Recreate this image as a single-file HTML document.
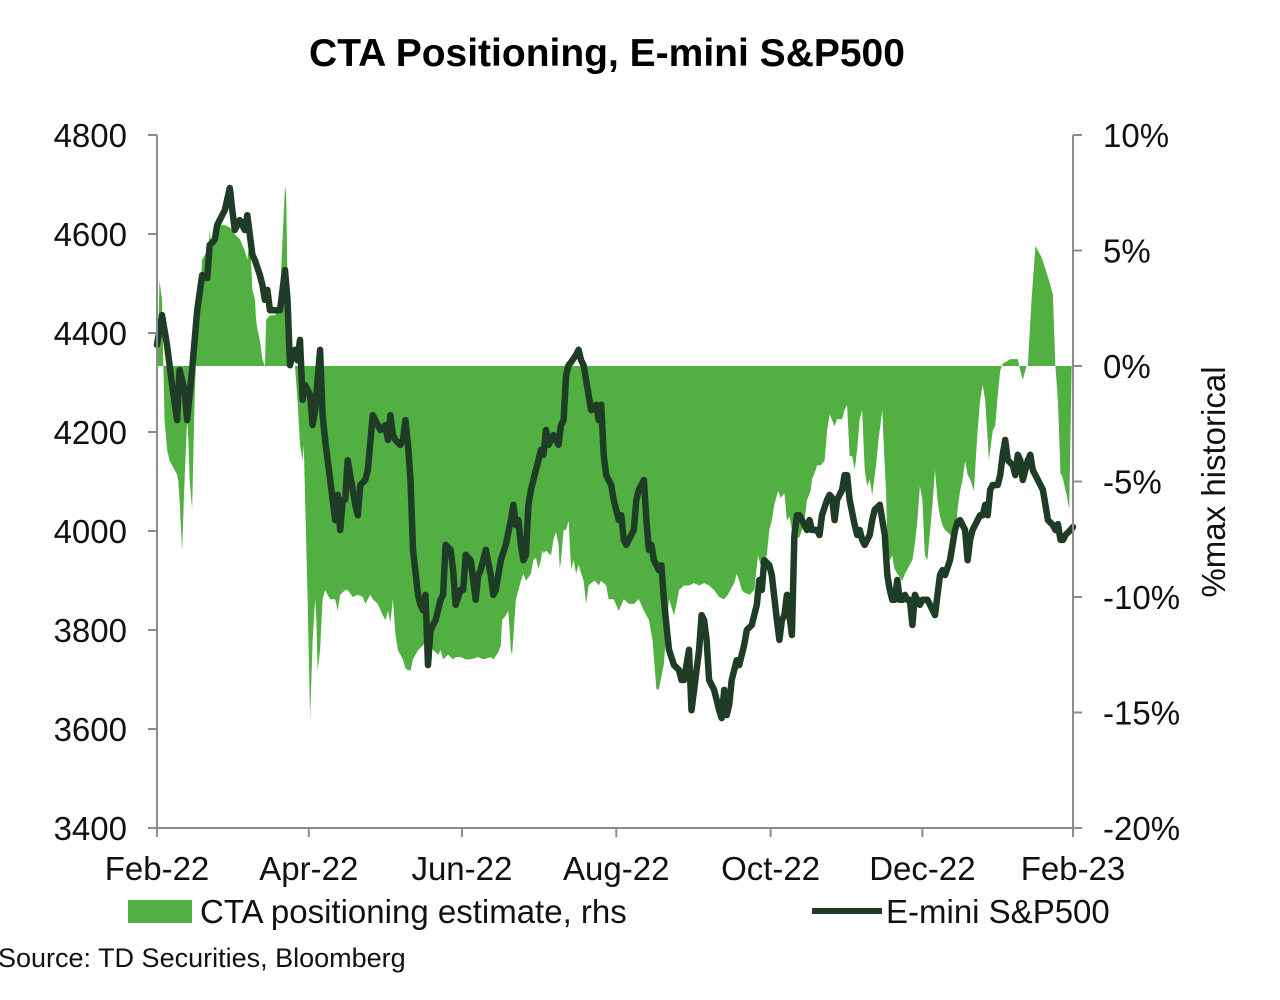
<!DOCTYPE html>
<html><head><meta charset="utf-8"><style>
body{margin:0;background:#fff;}
svg{display:block;font-family:"Liberation Sans",Arial,sans-serif;}
</style></head><body>
<svg id="chart" width="1280" height="1000">
<text x="607" y="66" text-anchor="middle" font-size="39" font-weight="bold" fill="#000">CTA Positioning, E-mini S&amp;P500</text>
<g id="plot"></g>
<g id="axes"></g>
<text transform="translate(1225,482) rotate(-90)" text-anchor="middle" font-size="33" fill="#111">%max historical</text>
<rect x="128" y="900" width="64" height="23" fill="#52b043"/>
<text x="200" y="923" font-size="33" fill="#111">CTA positioning estimate, rhs</text>
<line x1="812" y1="911" x2="882" y2="911" stroke="#1f3d26" stroke-width="6"/>
<text x="886" y="923" font-size="33" fill="#111">E-mini S&amp;P500</text>
<text x="-2" y="967" font-size="27" fill="#111">Source: TD Securities, Bloomberg</text>
</svg>
<script>
const spDays=[0,2,4,6,8,9,11,12,14,16,18,20,21,23,24,26,27,29,30,31,33,35,36,38,39,41,42,43,44,45,47,49,51,52,53,54,55,56,57,58,59,61,62,63,64,65,66,67,69,71,72,73,74,75,76,77,79,80,81,83,84,86,88,89,91,92,93,94,95,97,98,99,100,101,102,104,105,106,107,108,109,111,113,114,115,117,118,119,121,122,123,125,127,128,129,131,133,134,135,137,139,141,142,143,144,145,146,147,148,149,150,151,152,153,154,155,156,157,158,160,161,162,163,164,165,167,168,169,170,171,172,173,175,176,177,178,179,181,182,184,185,186,187,188,190,191,192,194,195,196,197,198,200,201,202,203,204,206,208,209,210,212,213,214,216,217,218,219,220,222,223,224,225,226,227,228,229,231,232,234,235,237,239,240,241,242,244,245,247,248,249,250,251,253,254,255,256,257,258,259,260,261,263,264,265,267,268,269,270,271,273,274,275,276,278,279,280,281,282,284,285,286,288,289,290,291,292,293,294,295,296,297,298,299,300,301,302,303,304,305,307,308,310,311,312,313,314,316,318,319,320,321,322,323,324,325,327,328,329,330,331,332,333,335,336,337,338,339,341,342,343,344,345,346,347,348,349,351,353,354,355,357,358,359,360,361,362,364,365];
const spValues=[4376,4436,4376,4295,4224,4325,4285,4224,4325,4446,4517,4511,4578,4588,4618,4638,4648,4693,4648,4608,4628,4608,4638,4558,4547,4517,4497,4467,4487,4446,4446,4446,4527,4467,4335,4356,4366,4345,4386,4265,4295,4275,4214,4244,4305,4366,4234,4184,4103,4022,4073,4002,4063,4063,4143,4113,4053,4032,4093,4103,4123,4234,4214,4204,4214,4184,4234,4194,4184,4174,4184,4224,4174,4103,3962,3871,3851,3840,3871,3729,3800,3820,3861,3871,3972,3962,3921,3851,3881,3881,3952,3941,3861,3911,3921,3962,3911,3871,3881,3941,3972,4022,4053,4012,4022,3972,3941,3951,4053,4083,4103,4123,4143,4164,4154,4204,4174,4184,4194,4174,4214,4224,4315,4335,4341,4356,4366,4345,4335,4305,4275,4244,4255,4224,4255,4154,4113,4093,4063,4022,4032,3982,3972,3982,4002,4063,4083,4103,4022,3962,3972,3941,3921,3931,3861,3810,3760,3729,3719,3699,3699,3760,3638,3679,3760,3830,3820,3780,3699,3679,3659,3638,3622,3679,3628,3649,3699,3739,3729,3770,3800,3810,3851,3901,3881,3941,3931,3911,3820,3780,3820,3830,3871,3790,3992,4032,4032,4022,4012,4002,4022,4002,4002,3992,4032,4063,4073,4067,4022,4063,4083,4113,4113,4063,4012,3992,4002,3982,3972,3992,4022,4043,4053,4022,3992,3911,3881,3861,3861,3901,3861,3861,3871,3861,3861,3810,3871,3861,3851,3861,3861,3851,3830,3871,3911,3921,3911,3941,4002,4018,4022,4012,4002,3941,3982,4002,4022,4032,4032,4053,4032,4083,4093,4093,4113,4154,4184,4143,4133,4113,4154,4143,4103,4123,4143,4154,4123,4103,4083,4053,4022,4012,4002,4014,3982,3982,3992,4002,4008];
const ctaDays=[0,0.4,1,2,3,4,5,7,8,8.5,9,10,11,12,12.5,13,14,15,16,17,18,20,20.5,21,22,23,23.5,25,27,29,31,33,35,36,37,38,39,39.5,40,41,42,43,43.5,45,47,48,49,50,51,51.5,52,53,54,55,56,57,58,58.5,59,60,61,62,63,63.5,64,65,66,67,69,71,72,73,75,76,78,80,82,83,85,86,88,90,91,92,93,94,95,96,98,99,101,102,104,106,108,110,112,113,114,116,118,119,121,123,125,128,130,133,134,136,137,137.5,139,140,141,141.5,143,144,145,146,147,149,150,151,152,153,153.5,154,155,157,158,159,160,160.5,161,162,163,164,165,166,167,168,168.5,170,171,172,173,174.5,176,177,179,180,182,184,186,188,190,192,194,196,197.5,199,200,202,203,204,206,207,208,210,212,214,216,218,220,222,224,226,227.5,230,231,232,233,234,236,238,239.5,241,242,243,244,245,246,247,247.5,248.5,250,251,252,253,254.5,256,257,258,259,260.5,261,262.5,263,264.5,266,267,268,270,271,273,274,275,276,277,278,279,280,281,281.5,282,283,284,285,286.5,287.5,289,289.5,290.5,291,292,293,293.5,294,295,297,298,299,300,301,302,303,304,305,305.5,306,307,309,310,311,312,313,314,316,317,318,319,320,321,322,323,324,325.5,327,328,329,330,331,331.5,333,334,335,336,337,340,342,343,344,345,346,346.5,347,348.5,350,351,352.5,354,356,357,358,359,360,360.5,361,362.5,363.5,364.5];
const ctaValues=[0,0.9,3.7,2.9,-2.3,-3.6,-4.1,-4.5,-4.7,-5.0,-5.8,-8.0,-4.9,-2.3,-3.2,-4.9,-6.2,-1.5,2.0,2.9,4.6,5.0,4.8,5.9,4.8,6.1,5.9,6.1,6.1,6.0,5.7,5.5,5.0,4.6,5.5,3.3,2.9,2.0,1.6,1.1,0.3,0,2.0,2.2,2.2,2.4,2.9,5.5,7.8,7.4,3.7,1.1,0,0,-1.5,-3.4,-4.1,-3.4,-5.8,-10.1,-15.3,-11.9,-10.1,-11.0,-13.2,-12.3,-10.1,-9.7,-10.1,-10.1,-10.6,-9.9,-9.7,-9.7,-10.0,-9.9,-10.0,-10.3,-9.9,-10.1,-10.3,-10.8,-11.0,-10.6,-11.1,-10.1,-11.6,-12.3,-12.7,-13.1,-13.2,-12.7,-12.3,-12.1,-11.9,-12.3,-12.5,-12.3,-12.7,-12.5,-12.7,-12.6,-12.6,-12.7,-12.7,-12.6,-12.7,-12.6,-12.7,-12.4,-12.1,-11.0,-10.8,-10.6,-12.3,-12.5,-10.1,-9.7,-9.3,-9.0,-9.3,-9.0,-8.4,-8.3,-8.8,-8.4,-8.0,-8.1,-8.0,-8.2,-7.5,-7.2,-7.7,-8.8,-8.4,-7.1,-7.1,-6.7,-8.8,-8.4,-9.0,-8.6,-8.8,-9.3,-10.3,-9.5,-9.4,-9.3,-9.5,-9.3,-9.5,-10.1,-10.1,-10.6,-10.1,-10.3,-10.3,-10.1,-10.6,-11.0,-11.9,-14.0,-14.0,-12.9,-11.4,-10.1,-10.8,-10.3,-9.7,-9.5,-9.5,-9.4,-9.5,-9.4,-9.5,-9.7,-10.0,-10.1,-9.9,-9.4,-9.0,-9.3,-9.7,-9.8,-9.9,-9.7,-8.2,-8.8,-8.4,-8.2,-7.1,-6.7,-6.0,-5.6,-5.4,-5.7,-5.5,-6.7,-6.5,-7.1,-7.5,-7.4,-7.1,-6.7,-5.8,-5.4,-4.9,-4.5,-4.3,-4.3,-4.1,-2.8,-2.1,-2.6,-2.3,-2.3,-1.9,-1.7,-3.9,-3.9,-4.5,-3.6,-2.3,-1.9,-3.2,-4.5,-5.2,-4.9,-5.6,-4.3,-3.2,-1.9,-3.2,-5.4,-7.5,-8.4,-8.2,-8.6,-8.8,-9.0,-9.3,-9.0,-8.8,-8.6,-8.4,-7.7,-6.7,-5.2,-5.8,-7.1,-8.2,-8.4,-6.0,-4.5,-5.8,-6.5,-6.9,-7.1,-7.3,-7.5,-7.7,-6.2,-5.4,-4.9,-4.1,-4.7,-4.9,-5.4,-2.8,-1.5,-0.8,-1.5,-3.2,-4.1,-2.8,-2.6,-1.3,-0.2,0.1,0.3,0.3,0.3,-0.2,-0.6,-0.2,0,0,2.9,5.2,5.0,4.7,4.2,3.5,3.1,0,-1.5,-4.7,-4.7,-4.9,-5.6,-6.2,0];
const leftTicks=[3400,3600,3800,4000,4200,4400,4600,4800];
const rightTicks=[-20,-15,-10,-5,0,5,10];
const xTickLabels=["Feb-22","Apr-22","Jun-22","Aug-22","Oct-22","Dec-22","Feb-23"];
const xTickDays=[0,60.5,121.5,183,244.5,305,365];

const X0=157,X1=1073,Y0=828,Y1=135;
const xs=d=>X0+(X1-X0)*d/365;
const yl=v=>Y0-(Y0-Y1)*(v-3400)/1400;
const yr=p=>Y0-(Y0-Y1)*(p+20)/30;
const NS='http://www.w3.org/2000/svg';
const plot=document.getElementById('plot'),axes=document.getElementById('axes');
function mk(tag,attrs,parent){const e=document.createElementNS(NS,tag);for(const k in attrs)e.setAttribute(k,attrs[k]);parent.appendChild(e);return e;}

let pts=[xs(ctaDays[0])+','+yr(0)];
ctaDays.forEach((d,i)=>pts.push(xs(d).toFixed(1)+','+yr(ctaValues[i]).toFixed(1)));
pts.push(xs(ctaDays[ctaDays.length-1])+','+yr(0));
const area=mk('polygon',{points:pts.join(' '),fill:'#52b043'},plot);



const lp=spDays.map((d,i)=>xs(d).toFixed(1)+','+yl(spValues[i]).toFixed(1)).join(' ');
const line=mk('polyline',{points:lp,fill:'none',stroke:'#1f3d26','stroke-width':6.5,'stroke-linejoin':'round','stroke-linecap':'round'},plot);



const ax='#8c8c8c';
mk('line',{x1:X0,y1:Y1,x2:X0,y2:Y0+1,stroke:ax,'stroke-width':2},axes);
mk('line',{x1:X1,y1:Y1,x2:X1,y2:Y0+1,stroke:ax,'stroke-width':2},axes);
mk('line',{x1:X0,y1:Y0,x2:X1,y2:Y0,stroke:ax,'stroke-width':2},axes);
leftTicks.forEach(v=>{
  mk('line',{x1:X0-9,y1:yl(v),x2:X0,y2:yl(v),stroke:ax,'stroke-width':2},axes);
  const t=mk('text',{x:127,y:yl(v)+12,'text-anchor':'end','font-size':33,fill:'#111'},axes);
  t.textContent=v;
  
  
});
rightTicks.forEach(p=>{
  mk('line',{x1:X1,y1:yr(p),x2:X1+9,y2:yr(p),stroke:ax,'stroke-width':2},axes);
  const t=mk('text',{x:1103,y:yr(p)+12,'font-size':33,fill:'#111'},axes);
  t.textContent=p+'%';
  
  
});
xTickDays.forEach((d,i)=>{
  mk('line',{x1:xs(d),y1:Y0,x2:xs(d),y2:Y0+9,stroke:ax,'stroke-width':2},axes);
  const t=mk('text',{x:xs(d),y:880,'text-anchor':'middle','font-size':33,fill:'#111'},axes);
  t.textContent=xTickLabels[i];
  
  
});
</script>
</body></html>
